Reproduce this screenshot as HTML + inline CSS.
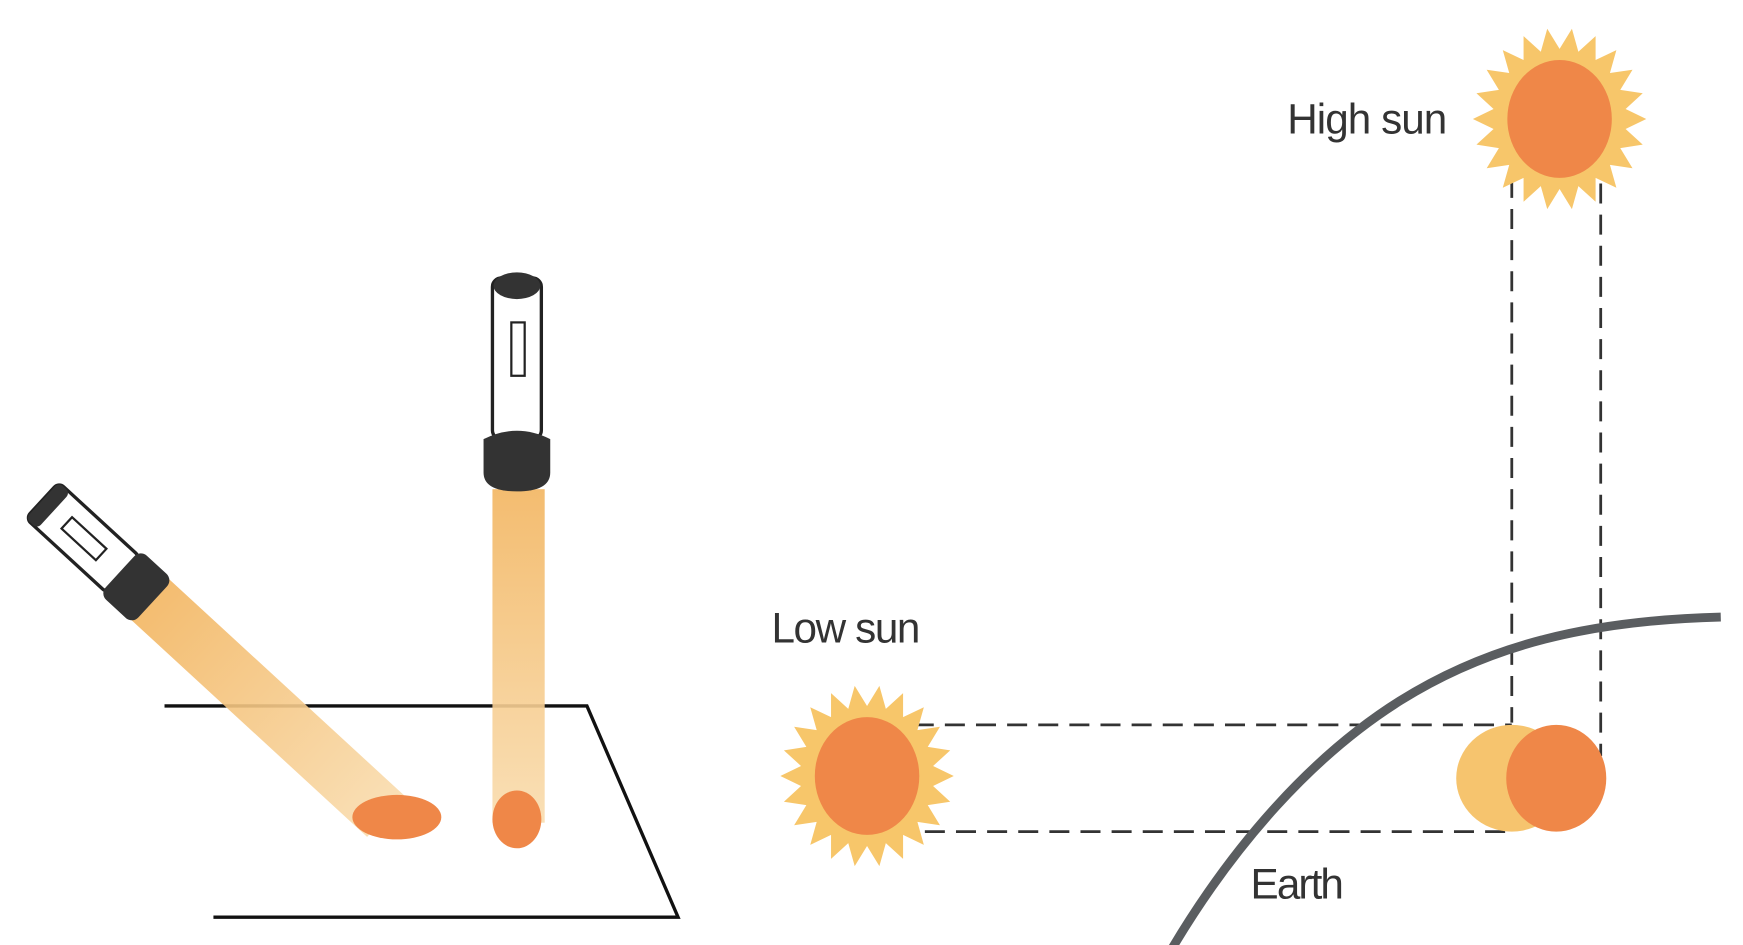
<!DOCTYPE html>
<html><head><meta charset="utf-8"><style>
html,body{margin:0;padding:0;background:#fff;}
svg{display:block;}
text{font-family:"Liberation Sans",sans-serif;fill:#333;}
</style></head><body>
<svg id="s" width="1743" height="945" viewBox="0 0 1568 850" preserveAspectRatio="none" xmlns="http://www.w3.org/2000/svg">
<defs>
<linearGradient id="beamV" x1="0" y1="0" x2="0" y2="1">
<stop offset="0" stop-color="#f2b560"/><stop offset="1" stop-color="#f9dcae"/></linearGradient>
<linearGradient id="beamS" x1="0" y1="0" x2="1" y2="0">
<stop offset="0" stop-color="#f2b560"/><stop offset="1" stop-color="#f9dcae"/></linearGradient>
</defs>
<!-- paper -->
<g stroke="#111" stroke-width="3" fill="none">
<polyline points="148,635 528,635 610,825 192,825"/>
</g>
<!-- vertical torch -->
<g>
<rect x="443" y="440" width="47" height="300" fill="url(#beamV)" opacity="0.9"/>
<ellipse cx="465" cy="737" rx="22" ry="26" fill="#ef8748"/>
<rect x="443" y="250" width="44" height="145" rx="8" fill="#fff" stroke="#222" stroke-width="3"/>
<ellipse cx="465" cy="257" rx="21" ry="12" fill="#333"/>
<rect x="460" y="290" width="12" height="48" fill="none" stroke="#222" stroke-width="2"/>
<path d="M435,395 Q465,380 495,395 L495,425 Q495,442 465,442 Q435,442 435,425 Z" fill="#333"/>
</g>
<!-- slanted torch -->
<g transform="translate(38,450) rotate(42.6)">
<rect x="130" y="-25" width="290" height="50" fill="url(#beamS)" opacity="0.9"/>
<rect x="0" y="-22" width="100" height="44" rx="6" fill="#fff" stroke="#222" stroke-width="3"/>
<rect x="0" y="-22" width="14" height="44" rx="5" fill="#333"/>
<rect x="30" y="-7" width="42" height="14" fill="none" stroke="#222" stroke-width="2"/>
<rect x="95" y="-27" width="40" height="54" rx="8" fill="#333"/>
</g>
<ellipse cx="357" cy="735" rx="40" ry="20" fill="#ef8748"/>
<!-- dashed lines -->
<g stroke="#333" stroke-width="2.5" stroke-dasharray="18,10" fill="none">
<line x1="1360" y1="160" x2="1360" y2="650"/>
<line x1="1440" y1="165" x2="1440" y2="680"/>
<line x1="822" y1="652" x2="1360" y2="652"/>
<line x1="832" y1="748" x2="1355" y2="748"/>
</g>
<!-- earth -->
<path d="M1055,852 C1110,760 1180,680 1260,630 C1340,580 1430,558 1548,555" stroke="#5a5d60" stroke-width="8" fill="none"/>
<g>
<ellipse cx="1360" cy="700" rx="50" ry="48" fill="#f6c46e"/>
<ellipse cx="1400" cy="700" rx="45" ry="48" fill="#ef8748"/>
</g>
<g id="suns"></g>
<text x="1158" y="120" font-size="38" textLength="144">High sun</text>
<text x="694" y="578" font-size="38" textLength="134">Low sun</text>
<text x="1125" y="808" font-size="38" textLength="84">Earth</text>
</svg>
<script>
const sunCenters=[[1403,107,'high-sun'],[780,698,'low-sun']];
const g=document.getElementById('suns');
const NS='http://www.w3.org/2000/svg';
sunCenters.forEach(function(c){
  const grp=document.createElementNS(NS,'g');
  
  
  let pts=[];const n=22;
  for(let i=0;i<n*2;i++){const a=i*Math.PI/n;const r=(i%2?60:78);pts.push((c[0]+r*Math.cos(a)).toFixed(1)+','+(c[1]+r*Math.sin(a)*1.05).toFixed(1));}
  const p=document.createElementNS(NS,'polygon');
  p.setAttribute('points',pts.join(' '));p.setAttribute('fill','#f7c66a');
  grp.appendChild(p);
  const e=document.createElementNS(NS,'ellipse');
  e.setAttribute('cx',c[0]);e.setAttribute('cy',c[1]);e.setAttribute('rx',47);e.setAttribute('ry',53);e.setAttribute('fill','#ef8748');
  grp.appendChild(e);
  g.appendChild(grp);
});
</script>
</body></html>
